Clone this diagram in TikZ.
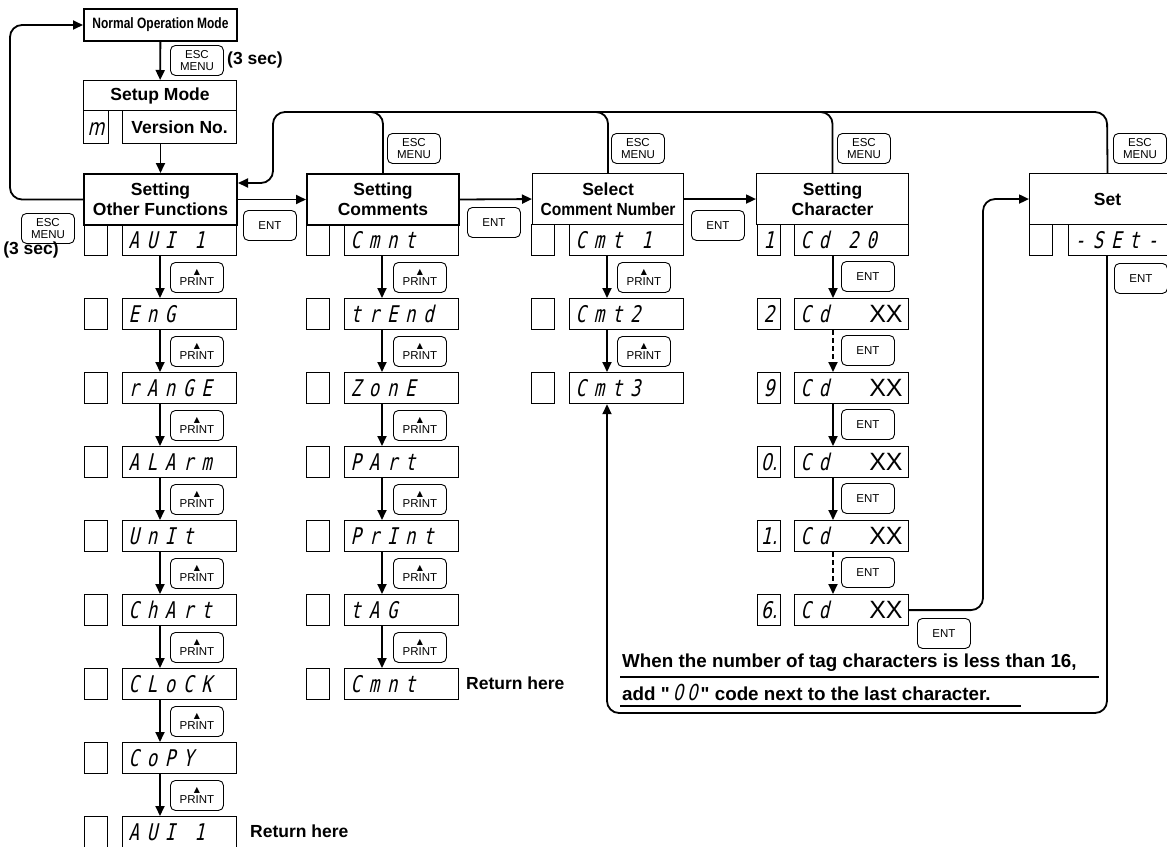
\documentclass[tikz,border=0pt]{standalone}
\usepackage{fontspec}
\setmainfont{Liberation Sans}
\newfontfamily\narrowfont{Liberation Sans}[FakeStretch=0.8]
\newfontfamily\semifont{Liberation Sans}[FakeStretch=0.89]
\newfontfamily\quotefont{Liberation Sans}
\newfontfamily\segfont{DejaVu Sans Mono}[FakeSlant=0.22,FakeStretch=0.75,LetterSpace=34]
\newfontfamily\segsmall{DejaVu Sans}[FakeSlant=0.22,FakeStretch=0.75]
\newfontfamily\symfont{DejaVu Sans}
\usetikzlibrary{arrows.meta}
\newcommand\segsz{\segfont\fontsize{23}{23}\selectfont}
\newcommand\segsm{\segsmall\fontsize{23}{23}\selectfont}
\newcommand\hdrf{\fontsize{17.5}{20}\selectfont\bfseries}
\newcommand\notef{\fontsize{18.8}{20}\selectfont\bfseries}
\newcommand\keyf{\fontsize{11.5}{11.5}\selectfont}
\newcommand\xxf{\normalfont\fontsize{25}{25}\selectfont}
\newcommand\tri{{\symfont\fontsize{8}{8}\selectfont ▲}}
\newcommand\gap{\hspace{19pt}}
\newcommand\sq{{\quotefont\bfseries "}}
\begin{document}
\begin{tikzpicture}[x=1pt,y=-1pt,
 hdr/.style={draw, line width=2pt, anchor=north west, inner sep=0pt, align=center, font=\hdrf},
 hdrthin/.style={hdr, line width=1.1pt},
 sbox/.style={draw, line width=1.2pt, anchor=north west, minimum width=23pt, minimum height=31pt, inner sep=0pt, text height=18pt, text depth=2pt, font=\segsm},
 dbox/.style={draw, line width=1.2pt, anchor=north west, text width=102pt, inner xsep=6pt, inner ysep=0pt, minimum height=31pt, text height=18pt, text depth=2pt, align=left, font=\segsz},
 key/.style={draw, line width=0.9pt, rounded corners=5pt, anchor=north west, minimum width=53pt, minimum height=30pt, inner sep=0pt, align=center, font=\keyf},
 flow/.style={line width=1.8pt, -{Triangle[length=10pt,width=9pt]}},
 plain/.style={line width=1.8pt},
 dsh/.style={dash pattern=on 5pt off 3pt},
 lbl/.style={font=\hdrf, inner sep=0pt},
]
\useasboundingbox (0,0) rectangle (1167,846);
\fill[white] (0,0) rectangle (1167,846);
\clip (0,0) rectangle (1167,846);

% ---------- top part
\node[hdr, font=\narrowfont\fontsize{15}{15}\selectfont\bfseries, minimum width=153pt, minimum height=32pt] (normal) at (83,8) {Normal Operation Mode};
\node[key] (k0) at (170,45) {ESC\\MENU};
\node[lbl, anchor=west] (t0) at (227,60) {(3 sec)};
\node[hdrthin, minimum width=153pt, minimum height=30pt] (setup) at (83,80) {Setup Mode};
\node[sbox, minimum width=25pt, minimum height=33pt] (sm) at (83,110) {m};
\node[draw, line width=1.2pt, anchor=north west, minimum width=114pt, minimum height=33pt, inner sep=0pt, font=\hdrf] (ver) at (122,110) {Version No.};

% ---------- headers
\node[hdr, minimum width=153pt, minimum height=51pt] (sof) at (83,173) {Setting\\Other Functions};
\node[hdr, minimum width=152pt, minimum height=51pt] (scm) at (306,173) {Setting\\Comments};
\node[hdrthin, minimum width=151pt, minimum height=51pt] (sel) at (532,173) {Select\\{\semifont Comment Number}};
\node[hdrthin, minimum width=152pt, minimum height=51pt] (sch) at (756,173) {Setting\\Character};
\node[hdrthin, minimum width=156pt, minimum height=51pt] (setb) at (1029,173) {Set};
\node[sbox] (sets) at (1029,224) {};
\node[dbox] (setd) at (1068,224) {-SEt-};

\draw[flow] (normal) -- (setup);
\draw[flow] (normal.south |- ver.south) -- (sof);

% left loop
\coordinate (lft) at (10,100);
\draw[flow, rounded corners=12pt] (sof.west) -| (lft) |- (normal.west);
\node[key] (kl) at (21,213) {ESC\\MENU};
\node[lbl] (tl3) at (31,250) {(3 sec)};

% header arrows
\draw[flow] (sof.east) -- (scm.west);
\draw[flow] (scm.east) -- (sel.west);
\draw[flow] (sel.east) -- (sch.west);
\node[key] (e1) at (243,210) {ENT};
\node[key] (e2) at (467,207) {ENT};
\node[key] (e3) at (691,210) {ENT};

% top return line
\coordinate (tl) at (273,112);
\coordinate (tlb) at (273,183);
\coordinate (tr) at (1107,112);
\draw[flow, rounded corners=12pt] (setb.north) -- (tr) -- (tl) -- (tlb) -- (sof.east |- tlb);
\foreach \n in {scm,sel,sch}{
  \draw[plain, rounded corners=12pt] (\n.north) -- (\n.north |- tl) -- ++(-30,0);
}
\node[key] (m2) at (387,133) {ESC\\MENU};
\node[key] (m3) at (611,133) {ESC\\MENU};
\node[key] (m4) at (837,133) {ESC\\MENU};
\node[key] (m5) at (1113,133) {ESC\\MENU};

% ---------- column 1
\foreach \t [count=\i from 0] in {AUI\gap1,EnG,rAnGE,ALArm,UnIt,ChArt,CLoCK,CoPY,AUI\gap1}{
  \node[sbox] (as\i) at (84,{224+74*\i}) {};
  \node[dbox] (a\i) at (122,{224+74*\i}) {\t};
}
\foreach \i in {0,...,7}{
  \pgfmathtruncatemacro\j{\i+1}
  \draw[flow] ([xshift=38pt]a\i.south west) -- ([xshift=38pt]a\j.north west);
  \node[key] (ap\i) at (170,{262+74*\i}) {\tri\\PRINT};
}
\node[lbl, anchor=west] (r1) at (250,831) {Return here};

% ---------- column 2
\foreach \t [count=\i from 0] in {Cmnt,trEnd,ZonE,PArt,PrInt,tAG,Cmnt}{
  \node[sbox] (bs\i) at (306,{224+74*\i}) {};
  \node[dbox] (b\i) at (344,{224+74*\i}) {\t};
}
\foreach \i in {0,...,5}{
  \pgfmathtruncatemacro\j{\i+1}
  \draw[flow] ([xshift=38pt]b\i.south west) -- ([xshift=38pt]b\j.north west);
  \node[key] (bp\i) at (393,{262+74*\i}) {\tri\\PRINT};
}
\node[lbl, anchor=west] (r2) at (466,683) {Return here};

% ---------- column 3
\foreach \t [count=\i from 0] in {Cmt\gap1,Cmt2,Cmt3}{
  \node[sbox] (cs\i) at (531,{224+74*\i}) {};
  \node[dbox] (c\i) at (569,{224+74*\i}) {\t};
}
\foreach \i in {0,1}{
  \pgfmathtruncatemacro\j{\i+1}
  \draw[flow] ([xshift=38pt]c\i.south west) -- ([xshift=38pt]c\j.north west);
  \node[key] (cp\i) at (617,{262+74*\i}) {\tri\\PRINT};
}

% ---------- column 4
\node[sbox] (ds0) at (757,224) {1};
\node[dbox] (d0) at (794,224) {Cd\gap20};
\foreach \s [count=\i] in {2,9,0.,1.,6.}{
  \node[sbox] (ds\i) at (757,{224+74*\i}) {\s};
  \node[dbox] (d\i) at (794,{224+74*\i}) {Cd\hfill{\xxf XX}};
}
\foreach \i/\st in {0/solid,1/dsh,2/solid,3/solid,4/dsh}{
  \pgfmathtruncatemacro\j{\i+1}
  \draw[flow,\st] ([xshift=39pt]d\i.south west) -- ([xshift=39pt]d\j.north west);
  \node[key] (de\i) at (841,{261+74*\i}) {ENT};
}

% row 6 to Set
\coordinate (rv) at (983,400);
\draw[flow, rounded corners=12pt] (d5.east) -| (rv) |- (setb.west);
\node[key] (e6) at (917,618) {ENT};

% Set ENT loop back to Cmt3
\coordinate (st) at (1107,255);
\coordinate (br) at (1107,713);
\coordinate (bl) at (607,713);
\draw[flow, rounded corners=12pt] (st) -- (br) -- (bl) -- ([xshift=38pt]c2.south west);
\node[key] (e7) at (1114,263) {ENT};

% note
\node[lbl, font=\notef, anchor=west] (n1) at (622,663) {When the number of tag characters is less than 16,};
\node[lbl, font=\notef, anchor=west] (n2) at (622,692) {add \sq\,{\normalfont\segsmall\fontsize{22}{22}\selectfont 0\,0}\,\sq\ code next to the last character.};
\draw[line width=1.4pt] (620,677) -- (1099,677);
\draw[line width=1.4pt] (620,706) -- (1021,706);
\end{tikzpicture}
\end{document}
